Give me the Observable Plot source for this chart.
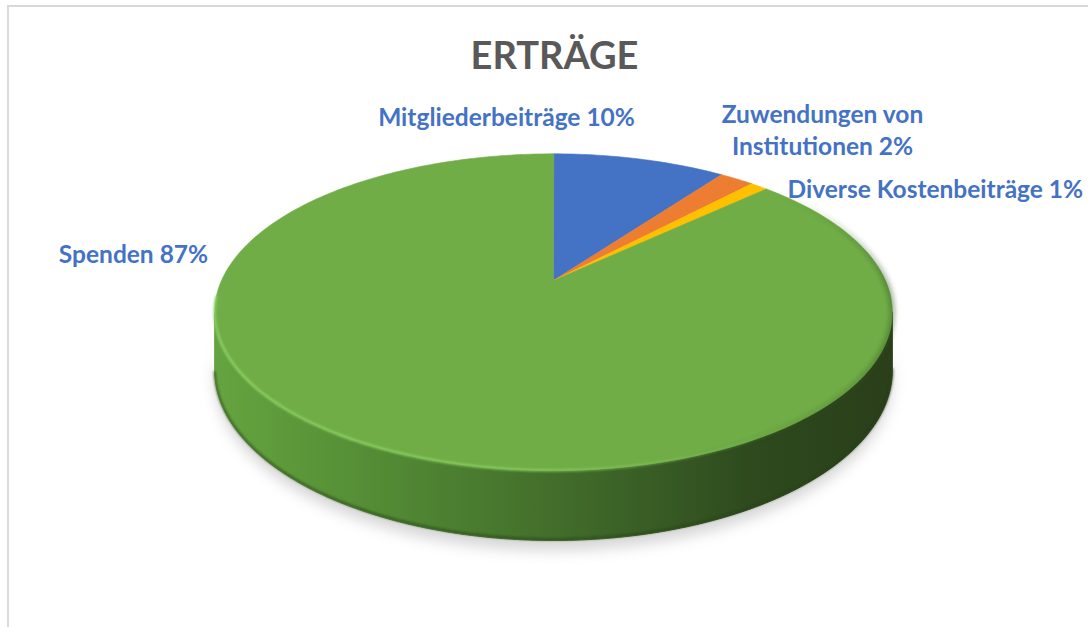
<!DOCTYPE html>
<html><head><meta charset="utf-8">
<script src="https://cdn.jsdelivr.net/npm/d3@7"></script>
<script src="https://cdn.jsdelivr.net/npm/@observablehq/plot@0.6"></script>
<style>
body{margin:0;background:#fff;}
#wrap{position:relative;width:1088px;height:627px;overflow:hidden;}
#frame{position:absolute;left:7px;top:5px;width:1100px;height:700px;border-top:2px solid #d9d9d9;border-left:2px solid #d9d9d9;pointer-events:none;}
</style>
</head><body><div id="wrap"><div id="chart"></div><div id="frame"></div></div>
<script>
// ---- data ----
const categories = ["Mitgliederbeiträge", "Zuwendungen von Institutionen", "Diverse Kostenbeiträge", "Spenden"];
const shares = [10, 2, 1, 87];
const labelTexts = ["Mitgliederbeiträge 10%", "Zuwendungen von\nInstitutionen 2%", "Diverse Kostenbeiträge 1%", "Spenden 87%"];
const sliceColors = ["#4472c4", "#ed7d31", "#ffc000", "#70ad47"];
const chartTitle = "ERTRÄGE";

// ---- layout ----
const W = 1088, H = 627;
const cx = 553, cy = 280, rx = 332, ry = 152, k = 0.2, depth = 56;
function proj(theta, dz = 0) {
  const u = Math.sin(theta), v = -Math.cos(theta);
  const s = 1 / (1 - k * v);
  return {x: cx + rx * u * s, y: cy + ry * v * s + dz * s};
}
const deg = Math.PI / 180;
const arcs = d3.pie().sort(null).value(d => d)(shares);

// top face polygons
const topPts = [];
arcs.forEach((a, i) => {
  topPts.push({slice: categories[i], x: cx, y: cy});
  const n = Math.max(2, Math.ceil((a.endAngle - a.startAngle) / deg));
  for (let j = 0; j <= n; j++) {
    const t = a.startAngle + (a.endAngle - a.startAngle) * j / n;
    topPts.push({slice: categories[i], ...proj(t)});
  }
});
// side (front) polygon
const tL = Math.PI + Math.acos(k), tR = Math.PI - Math.acos(k);
const sidePts = [];
for (let t = tR; t <= tL + 1e-9; t += deg / 2) sidePts.push(proj(t));
for (let t = tL; t >= tR - 1e-9; t -= deg / 2) sidePts.push(proj(t, depth));
// shadow
const shadowPts = [];
for (let t = tR - 8 * deg; t <= tL + 8 * deg; t += deg) shadowPts.push(proj(t, depth + 8));
for (let t = tL; t >= tR; t -= deg) shadowPts.push(proj(t, depth - 30));
// highlight along front edge / dark rim at right
const hiPts = [];
for (let t = 140 * deg; t <= 264 * deg; t += deg) hiPts.push(proj(t));
const darkPts = [];
for (let t = 50 * deg; t <= 165 * deg; t += deg) darkPts.push(proj(t));
const bottomEdge = [];
for (let t = tR; t <= tL; t += deg) bottomEdge.push(proj(t, depth - 1));

// label placement (annotation layout)
const labelPos = [
  {x: 506, y: 125, anchor: "middle"},
  {x: 822, y: 154, anchor: "middle"},
  {x: 787, y: 197, anchor: "start"},
  {x: 133, y: 262, anchor: "middle"}
];
const labels = labelTexts.map((t, i) => ({text: t, ...labelPos[i]}));

const font = "Lato, 'Open Sans', sans-serif";
const marks = [
  Plot.line(shadowPts, {x: "x", y: "y", fill: "#000", fillOpacity: 0.16, stroke: "none", curve: "linear-closed", ariaDescription: "shadow"}),
  Plot.line(sidePts, {x: "x", y: "y", fill: "url(#sideGrad)", stroke: "url(#sideGrad)", strokeWidth: 1, curve: "linear-closed", ariaDescription: "side"}),
  Plot.line(bottomEdge, {x: "x", y: "y", stroke: "#2a4019", strokeWidth: 2.5, strokeOpacity: 0.6, ariaDescription: "bedge"}),
  ...arcs.map((a, i) => Plot.line(topPts.filter(d => d.slice === categories[i]), {x: "x", y: "y", fill: sliceColors[i], stroke: sliceColors[i], strokeWidth: 0.6, curve: "linear-closed"})),
  Plot.line(darkPts, {x: "x", y: "y", stroke: "url(#rimGrad)", strokeWidth: 6, ariaDescription: "darkrim"}),
  Plot.line(hiPts, {x: "x", y: "y", stroke: "url(#hiGrad)", strokeWidth: 2.5, ariaDescription: "hilite"}),
  Plot.text(labels.filter(d => d.anchor === "middle"), {x: "x", y: "y", text: "text", textAnchor: "middle", lineAnchor: "bottom", lineHeight: 1.3, fill: "#4472c4", fontWeight: "bold", fontSize: 24.5, fontFamily: font}),
  Plot.text(labels.filter(d => d.anchor === "start"), {x: "x", y: "y", text: "text", textAnchor: "start", lineAnchor: "bottom", fill: "#4472c4", fontWeight: "bold", fontSize: 24.5, fontFamily: font}),
  Plot.text([chartTitle], {x: () => 554, y: () => 68, text: d => d, textAnchor: "middle", lineAnchor: "bottom", fill: "#595959", fontWeight: "bold", fontSize: 38, fontFamily: font})
];

const svg = Plot.plot({
  width: W, height: H, margin: 0,
  x: {domain: [0, W], range: [0, W], axis: null},
  y: {domain: [0, H], range: [0, H], axis: null},
  style: {background: "#fff"},
  marks
});
const s = d3.select(svg);
const defs = s.insert("defs", ":first-child");
const g = defs.append("linearGradient").attr("id", "sideGrad").attr("gradientUnits", "userSpaceOnUse")
  .attr("x1", cx - rx).attr("x2", cx + rx).attr("y1", 0).attr("y2", 0);
[[0, "#64a33f"], [0.25, "#528a34"], [0.55, "#3f6829"], [0.8, "#2e4a1e"], [1, "#2a3f1a"]].forEach(([o, c]) => g.append("stop").attr("offset", o).attr("stop-color", c));
const rg = defs.append("linearGradient").attr("id", "rimGrad").attr("gradientUnits", "userSpaceOnUse")
  .attr("x1", 0).attr("x2", 0).attr("y1", proj(50 * deg).y).attr("y2", proj(165 * deg).y);
[[0, 0], [0.35, 0.4], [0.6, 0.35], [1, 0]].forEach(([o, a]) => rg.append("stop").attr("offset", o).attr("stop-color", "#2f4d1f").attr("stop-opacity", a));
const hg = defs.append("linearGradient").attr("id", "hiGrad").attr("gradientUnits", "userSpaceOnUse")
  .attr("x1", cx - rx).attr("x2", proj(140 * deg).x).attr("y1", 0).attr("y2", 0);
[[0, 0.9], [0.5, 0.8], [1, 0]].forEach(([o, a]) => hg.append("stop").attr("offset", o).attr("stop-color", "#8fd466").attr("stop-opacity", a));
defs.append("filter").attr("id", "blur8").attr("x", "-20%").attr("y", "-50%").attr("width", "140%").attr("height", "200%")
  .append("feGaussianBlur").attr("stdDeviation", 7);
defs.append("filter").attr("id", "blur2").attr("x", "-10%").attr("y", "-10%").attr("width", "120%").attr("height", "120%").append("feGaussianBlur").attr("stdDeviation", 2);
defs.append("filter").attr("id", "blur1").attr("x", "-10%").attr("y", "-10%").attr("width", "120%").attr("height", "120%").append("feGaussianBlur").attr("stdDeviation", 0.8);
s.select('g[aria-description="shadow"]').attr("filter", "url(#blur8)");
s.select('g[aria-description="darkrim"]').attr("filter", "url(#blur2)");
s.select('g[aria-description="hilite"]').attr("filter", "url(#blur1)");
s.select('g[aria-description="bedge"]').attr("filter", "url(#blur1)");
document.getElementById("chart").appendChild(svg);
</script>
</body></html>
